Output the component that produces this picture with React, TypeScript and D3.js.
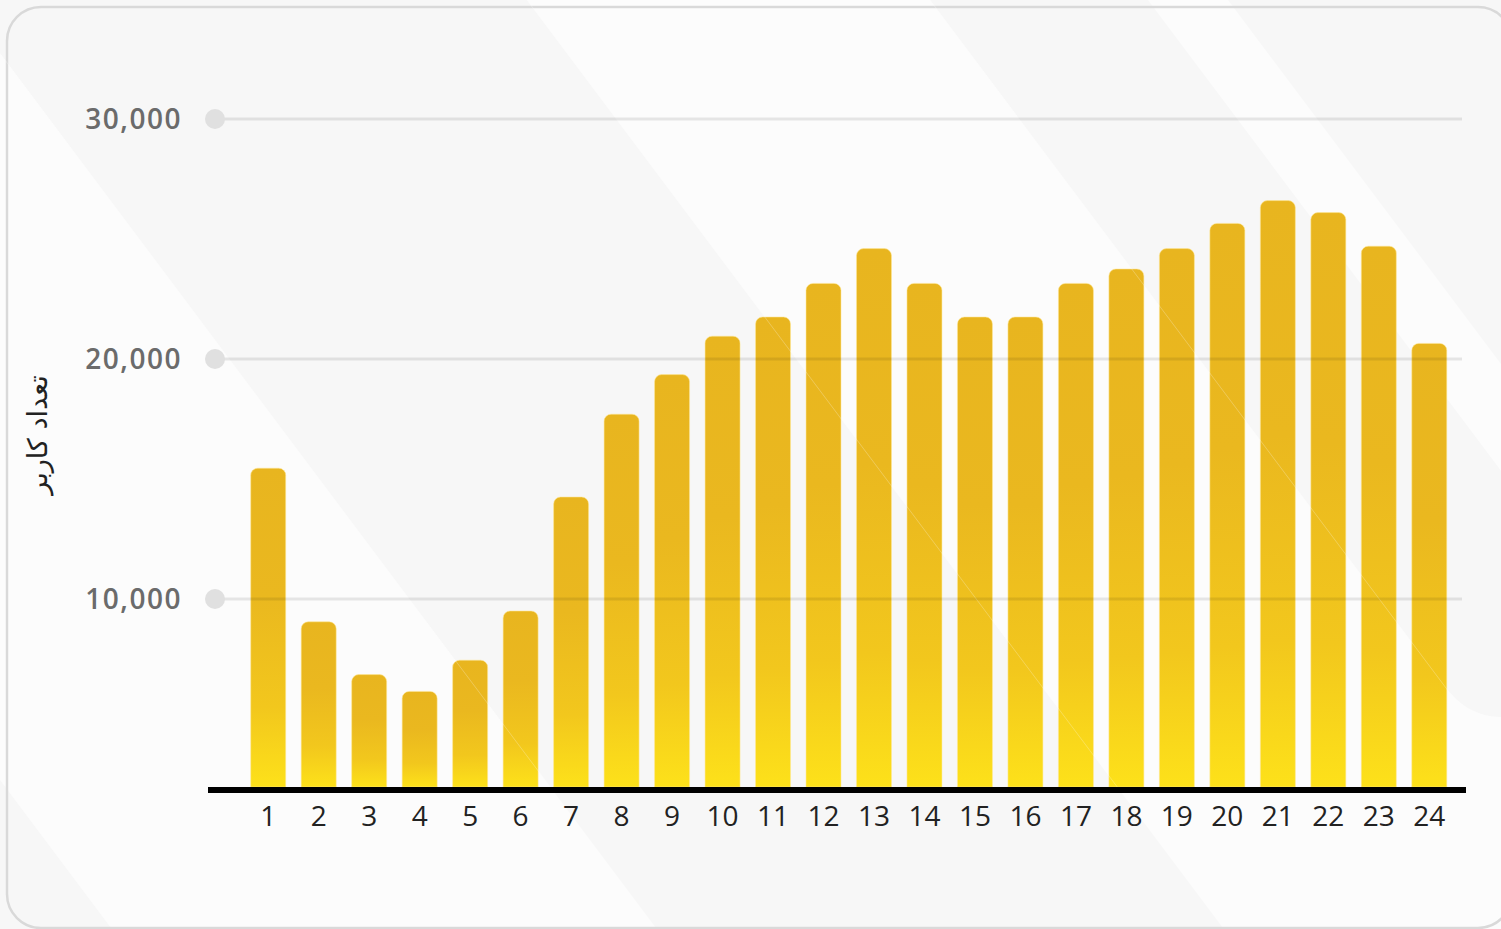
import React, { useEffect, useRef } from 'react';
import * as d3 from 'd3';

const hours = ['1', '2', '3', '4', '5', '6', '7', '8', '9', '10', '11', '12',
  '13', '14', '15', '16', '17', '18', '19', '20', '21', '22', '23', '24'];
const users = [15450, 9050, 6850, 6150, 7450, 9500, 14250, 17700, 19350, 20950, 21750, 23150,
  24600, 23150, 21750, 21750, 23150, 23750, 24600, 25650, 26600, 26100, 24700, 20650];
const yTicks = [10000, 20000, 30000];
const yTitle = 'تعداد کاربر';

const W = 1501;
const H = 929;

const App = () => {
  const svgRef = useRef<SVGSVGElement | null>(null);

  useEffect(() => {
    const svg = d3.select(svgRef.current);
    svg.selectAll('*').remove();

    const baseline = 787;
    const slope = 0.75;
    const xAt = (c: number, y: number) => c + slope * y;

    // background stripes
    const gray = '#f7f7f7';
    svg.append('rect').attr('width', W).attr('height', H).attr('fill', '#fcfcfc');
    const bg = svg.append('g');
    bg.append('path')
      .attr('d', `M0,${780} L${xAt(-585, H)},${H} L0,${H} Z`)
      .attr('fill', gray);
    bg.append('path')
      .attr('d', `M0,0 L527,0 L${xAt(527, H)},${H} L${xAt(-40, H)},${H} L0,${40 / slope} Z`)
      .attr('fill', gray);
    bg.append('path')
      .attr('d', `M930,0 L${xAt(930, 680)},680 C1452,697 1470,717 ${W},717 V${(W - 1148) / slope} L1148,0 Z`)
      .attr('fill', gray);
    bg.append('path')
      .attr('d', `M1228,0 L${W},0 L${W},${(W - 1228) / slope} Z`)
      .attr('fill', gray);

    // card border
    svg.append('rect')
      .attr('x', 7).attr('y', 7)
      .attr('width', 1505).attr('height', 921)
      .attr('rx', 34)
      .attr('fill', 'none')
      .attr('stroke', '#d9d9d9')
      .attr('stroke-width', 2.5);

    const xScale = d3.scaleBand()
      .domain(hours)
      .range([243, 1454.5])
      .paddingInner(0.307)
      .paddingOuter(0.153);

    const yScale = d3.scaleLinear()
      .domain([0, 30000])
      .range([839, 119]);

    const defs = svg.append('defs');
    const gradient = defs.append('linearGradient')
      .attr('id', 'barGrad')
      .attr('x1', 0).attr('y1', 0)
      .attr('x2', 0).attr('y2', 1);
    [[0, '#e8b51f'], [0.4, '#eab81f'], [0.75, '#f2c71d'], [1, '#fde11a']].forEach(([o, c]) => {
      gradient.append('stop').attr('offset', o as number).attr('stop-color', c as string);
    });

    // bars
    const r = 7;
    const bw = xScale.bandwidth();
    svg.append('g')
      .selectAll('path')
      .data(users)
      .join('path')
      .attr('d', (d, i) => {
        const x = xScale(hours[i]) as number;
        const top = yScale(d);
        return `M${x},${baseline} V${top + r} A${r},${r} 0 0 1 ${x + r},${top} H${x + bw - r} A${r},${r} 0 0 1 ${x + bw},${top + r} V${baseline} Z`;
      })
      .attr('fill', 'url(#barGrad)')
      .attr('stroke', 'rgba(255,232,150,0.55)')
      .attr('stroke-width', 1);

    // stripe seams showing over the bars
    [-40, 527, 930].forEach(c => {
      svg.append('line')
        .attr('x1', xAt(c, 0)).attr('y1', 0)
        .attr('x2', xAt(c, baseline)).attr('y2', baseline)
        .attr('stroke', '#fff')
        .attr('stroke-opacity', 0.25)
        .attr('stroke-width', 1);
    });

    // gridlines + dots
    const grid = svg.append('g');
    grid.selectAll('line')
      .data(yTicks)
      .join('line')
      .attr('x1', 215).attr('x2', 1462)
      .attr('y1', d => yScale(d)).attr('y2', d => yScale(d))
      .attr('stroke', '#000')
      .attr('stroke-opacity', 0.09)
      .attr('stroke-width', 3);
    grid.selectAll('circle')
      .data(yTicks)
      .join('circle')
      .attr('cx', 215)
      .attr('cy', d => yScale(d))
      .attr('r', 10)
      .attr('fill', '#e0e0e0');

    grid.selectAll('text')
      .data(yTicks)
      .join('text')
      .attr('x', 182)
      .attr('y', d => yScale(d) + 10)
      .attr('text-anchor', 'end')
      .text(d => d3.format(',')(d))
      .style('font-family', '"Open Sans", sans-serif')
      .style('font-size', '28px')
      .style('font-weight', 600)
      .style('letter-spacing', '1.5px')
      .style('fill', '#6b6b6b');

    // x axis
    svg.append('rect')
      .attr('x', 208).attr('y', baseline)
      .attr('width', 1258).attr('height', 6)
      .attr('fill', '#000');

    svg.append('g')
      .selectAll('text')
      .data(hours)
      .join('text')
      .attr('x', d => (xScale(d) as number) + bw / 2)
      .attr('y', 826)
      .attr('text-anchor', 'middle')
      .text(d => d)
      .style('font-family', '"Open Sans", sans-serif')
      .style('font-size', '28px')
      .style('fill', '#222');

    svg.append('text')
      .attr('transform', 'translate(47,435) rotate(-90)')
      .attr('text-anchor', 'middle')
      .text(yTitle)
      .style('font-family', '"DejaVu Sans", sans-serif')
      .style('font-size', '27px')
      .style('fill', '#222');
  }, []);

  return (
    <svg
      ref={svgRef}
      width={W}
      height={H}
      style={{ position: 'absolute', left: 0, top: 0, display: 'block' }}
    />
  );
};

export default App;
